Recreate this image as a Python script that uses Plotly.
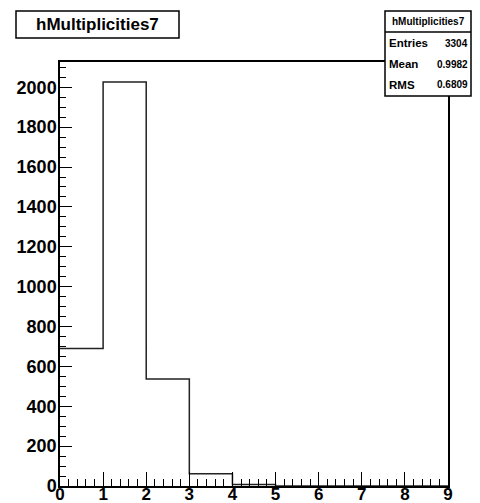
import plotly.graph_objects as go

# histogram data (bin edges + contents)
bin_edges = [0, 1, 2, 3, 4, 5, 6, 7, 8, 9]
counts = [690, 2027, 537, 62, 7, 0, 0, 0, 0, 0]
hist_name = "hMultiplicities7"
stat_labels = ["Entries", "Mean", "RMS"]
stat_values = ["3304", "0.9982", "0.6809"]
x_ticks = [0, 1, 2, 3, 4, 5, 6, 7, 8, 9]
y_ticks = [0, 200, 400, 600, 800, 1000, 1200, 1400, 1600, 1800, 2000]

# page body has an 8px margin, so the figure is drawn smaller and shifted
OFF = 8
W, H = 480 - OFF, 503 - OFF
L, T = 60 - OFF, 62 - OFF
R = W - (448 - OFF)
B = H - (486 - OFF)
pw, ph = W - L - R, H - T - B


def px(x):
    return (x - OFF - L) / pw


def py(y):
    return (H - B - (y - OFF)) / ph


fig = go.Figure()
fig.add_trace(go.Scatter(x=bin_edges, y=counts, mode="lines",
                         line=dict(shape="hv", color="#222", width=1.5),
                         hoverinfo="skip", showlegend=False))

font = "Liberation Sans, Arial, sans-serif"
fig.update_xaxes(range=[0, 9], tickvals=x_ticks, ticks="inside", ticklen=14,
                 tickwidth=1.2, tickcolor="black", ticklabelstandoff=-8,
                 minor=dict(ticks="inside", dtick=0.2, ticklen=7, tickwidth=1.2, tickcolor="black"),
                 showline=True, linecolor="black", linewidth=1.5, mirror=True,
                 showgrid=False, zeroline=False,
                 tickfont=dict(family=font, size=17, color="black", weight="bold"))
fig.update_yaxes(range=[0, 2127], tickvals=y_ticks, ticks="inside", ticklen=12,
                 tickwidth=1.2, tickcolor="black", ticklabelstandoff=-2,
                 minor=dict(ticks="inside", dtick=50, ticklen=6, tickwidth=1.2, tickcolor="black"),
                 showline=True, linecolor="black", linewidth=1.5, mirror=True,
                 showgrid=False, zeroline=False,
                 tickfont=dict(family=font, size=18, color="black", weight="bold"))

# stats box kept inside the visible page width
SX0, SX1 = 385, 471
shapes = [
    # title box
    dict(type="rect", xref="paper", yref="paper", x0=px(16), x1=px(179), y0=py(38), y1=py(11),
         line=dict(color="black", width=1.5), fillcolor="white"),
    # stats box
    dict(type="rect", xref="paper", yref="paper", x0=px(SX0), x1=px(SX1), y0=py(96), y1=py(11),
         line=dict(color="black", width=1.5), fillcolor="white"),
    dict(type="line", xref="paper", yref="paper", x0=px(SX0), x1=px(SX1), y0=py(32), y1=py(32),
         line=dict(color="black", width=1.5)),
]

annotations = [
    dict(text=hist_name, xref="paper", yref="paper", x=px(97.5), y=py(24.5),
         xanchor="center", yanchor="middle", showarrow=False,
         font=dict(family=font, size=17, color="black", weight="bold")),
    dict(text=hist_name, xref="paper", yref="paper", x=px((SX0 + SX1) / 2), y=py(21.5),
         xanchor="center", yanchor="middle", showarrow=False,
         font=dict(family=font, size=10, color="black", weight="bold")),
]
for i, (lab, val) in enumerate(zip(stat_labels, stat_values)):
    yy = 43 + i * 21
    annotations.append(dict(text=lab, xref="paper", yref="paper", x=px(SX0 + 2), y=py(yy),
                            xanchor="left", yanchor="middle", showarrow=False,
                            font=dict(family=font, size=11.5, color="black", weight="bold")))
    annotations.append(dict(text=val, xref="paper", yref="paper", x=px(SX1 - 1), y=py(yy),
                            xanchor="right", yanchor="middle", showarrow=False,
                            font=dict(family=font, size=10, color="black", weight="bold")))

fig.update_layout(width=W, height=H, margin=dict(l=L, r=R, t=T, b=B, autoexpand=False),
                  plot_bgcolor="white", paper_bgcolor="white",
                  shapes=shapes, annotations=annotations)

fig.write_html("out.html")
